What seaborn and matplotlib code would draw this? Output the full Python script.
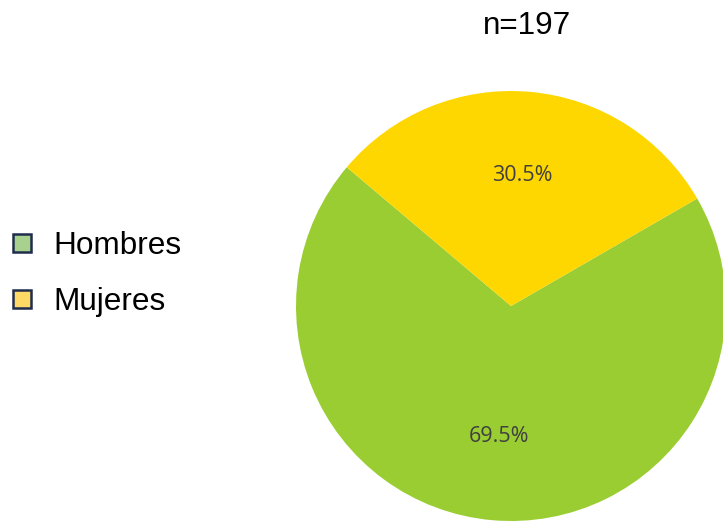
import matplotlib
matplotlib.use("Agg")
import matplotlib.pyplot as plt
from matplotlib.lines import Line2D
import seaborn as sns

categories = ["Hombres", "Mujeres"]
values = [69.5, 30.5]
title_text = "n=197"

pie_colors = ["#9ACD32", "#FFD700"]
legend_colors = ["#A9D18E", "#FFD966"]

sns.set_style("white")
plt.rcParams['font.family'] = ['Liberation Sans', 'DejaVu Sans']
plt.rcParams['text.color'] = 'black'

fig = plt.figure(figsize=(7.23, 5.22), dpi=100)
W, H = 723, 522
cx, cy, r = 511, 306, 215
ax = fig.add_axes([(cx - r) / W, (H - cy - r) / H, 2 * r / W, 2 * r / H])
wedges, texts, autotexts = ax.pie(
    values, colors=pie_colors, startangle=139.8, counterclock=True,
    autopct="%.1f%%", pctdistance=0.61,
    textprops=dict(fontsize=15.5, color="#404040", family=["Open Sans", "DejaVu Sans"]),
    wedgeprops=dict(linewidth=0),
)
ax.set_xlim(-1, 1)
ax.set_ylim(-1, 1)
ax.set_aspect("equal")
ax.axis("off")
for w in wedges:
    w.set_clip_on(False)

fig.text(527 / W, 1 - 26 / H, title_text, ha="center", va="center", fontsize=22.7, color="black")

handles = [Line2D([0], [0], marker="s", linestyle="none", markersize=13.5,
                  markerfacecolor=c, markeredgecolor="#1F2D4D", markeredgewidth=1.8)
           for c in legend_colors]
leg = fig.legend(handles, categories, loc="center left", bbox_to_anchor=(-0.005, 1 - 274 / H),
                 frameon=False, fontsize=22.7, handletextpad=0.5, labelspacing=0.8,
                 handlelength=1.0, borderaxespad=0.0, borderpad=0.3)
for t in leg.get_texts():
    t.set_color("black")

fig.savefig("out.png", dpi=100)
